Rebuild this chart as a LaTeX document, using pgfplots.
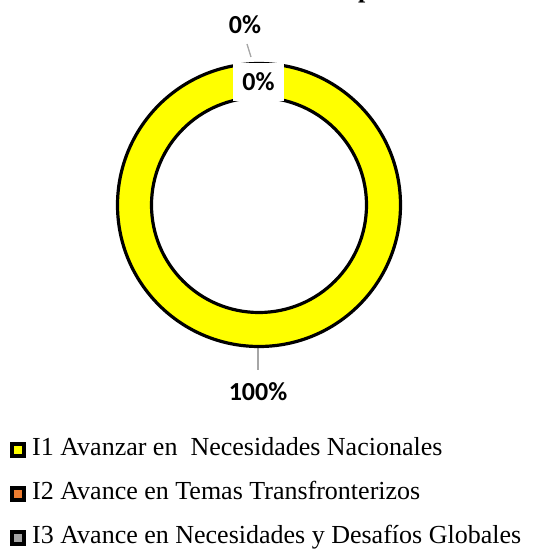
\documentclass[border=0pt]{standalone}
\usepackage{fontspec}
\setmainfont{Liberation Serif}
\newfontfamily\calibri{Carlito}
\usepackage{pgfplots}
\usepackage{pgfplotstable}
\pgfplotsset{compat=1.18}

\definecolor{slice0}{HTML}{FFFF00}
\definecolor{slice1}{HTML}{ED7D31}
\definecolor{slice2}{HTML}{A5A5A5}
\definecolor{leader}{HTML}{A6A6A6}
\pgfdeclareplotmark{nothing}{}

% slices of the doughnut, values in percent
\pgfplotstableread{
slice value
I1 100
I2 0
I3 0
}\donut
\pgfplotstablecreatecol[create col/expr accum={\pgfmathaccuma + \thisrow{value}}{0}]{cum}{\donut}

\begin{document}
\begin{tikzpicture}
\useasboundingbox (0,0) rectangle (538bp,549bp);
% clipped title (only the descender shows)
\node[anchor=base west, inner sep=0pt, font=\fontsize{26bp}{30bp}\selectfont\bfseries] at (358bp,551bp) {p};
\begin{axis}[
    at={(259bp,344bp)}, anchor=center,
    width=286bp, height=286bp, scale only axis,
    xmin=-1, xmax=1, ymin=-1, ymax=1,
    hide axis, clip=false,
    legend image code/.code={\draw[#1, line width=4bp] (2bp,-6bp) rectangle (14bp,6bp);},
    legend cell align=left,
    legend style={draw=none, fill=none, at={(-0.3706,-0.3112)}, anchor=north west,
        font=\fontsize{26bp}{30bp}\selectfont, inner sep=0pt, row sep=19bp, column sep=6bp,
        nodes={inner sep=0pt, text height=18.5bp, text depth=6.5bp}},
    after end axis/.code={
        \node[fill=white, minimum width=51bp, minimum height=38bp, inner sep=0pt,
              font=\calibri\bfseries\fontsize{26bp}{30bp}\selectfont] at (axis cs:-0.0035,0.86) {0\%};
    },
]
\addplot[forget plot, only marks, mark=nothing, scatter,
    visualization depends on={\thisrow{value} \as \slval},
    visualization depends on={\thisrow{cum} \as \slcum},
    visualization depends on={\coordindex \as \slidx},
    scatter/@pre marker code/.code={%
        \pgfmathsetmacro\aA{90-3.6*(\slcum-\slval)}%
        \pgfmathsetmacro\aB{90-3.6*\slcum}%
        \pgfmathtruncatemacro\k{\slidx}%
        \ifdim\slval pt>0pt
        \path[fill=slice\k, draw=black, line width=3.2bp]
            (\aA:141.5bp) arc[start angle=\aA, end angle=\aB, radius=141.5bp]
            -- (\aB:107.5bp) arc[start angle=\aB, end angle=\aA, radius=107.5bp] -- cycle;
        \fi
    },
    scatter/@post marker code/.code={},
] table[x expr=0, y expr=0] {\donut};

% data labels
\draw[leader, line width=1.3bp] (axis cs:-0.007,-0.86) -- (axis cs:-0.007,-1.154);
\node[font=\calibri\bfseries\fontsize{26bp}{30bp}\selectfont] at (axis cs:-0.007,-1.308) {100\%};
\draw[leader, line width=1.3bp] (axis cs:-0.084,1.126) -- (axis cs:-0.056,1.035);
\node[font=\calibri\bfseries\fontsize{26bp}{30bp}\selectfont] at (axis cs:-0.098,1.259) {0\%};

\addlegendimage{fill=slice0, draw=black}
\addlegendentry{I1 Avanzar en~ Necesidades Nacionales}
\addlegendimage{fill=slice1, draw=black}
\addlegendentry{I2 Avance en Temas Transfronterizos}
\addlegendimage{fill=slice2, draw=black}
\addlegendentry{I3 Avance en Necesidades y Desafíos Globales}
\end{axis}
\end{tikzpicture}
\end{document}
